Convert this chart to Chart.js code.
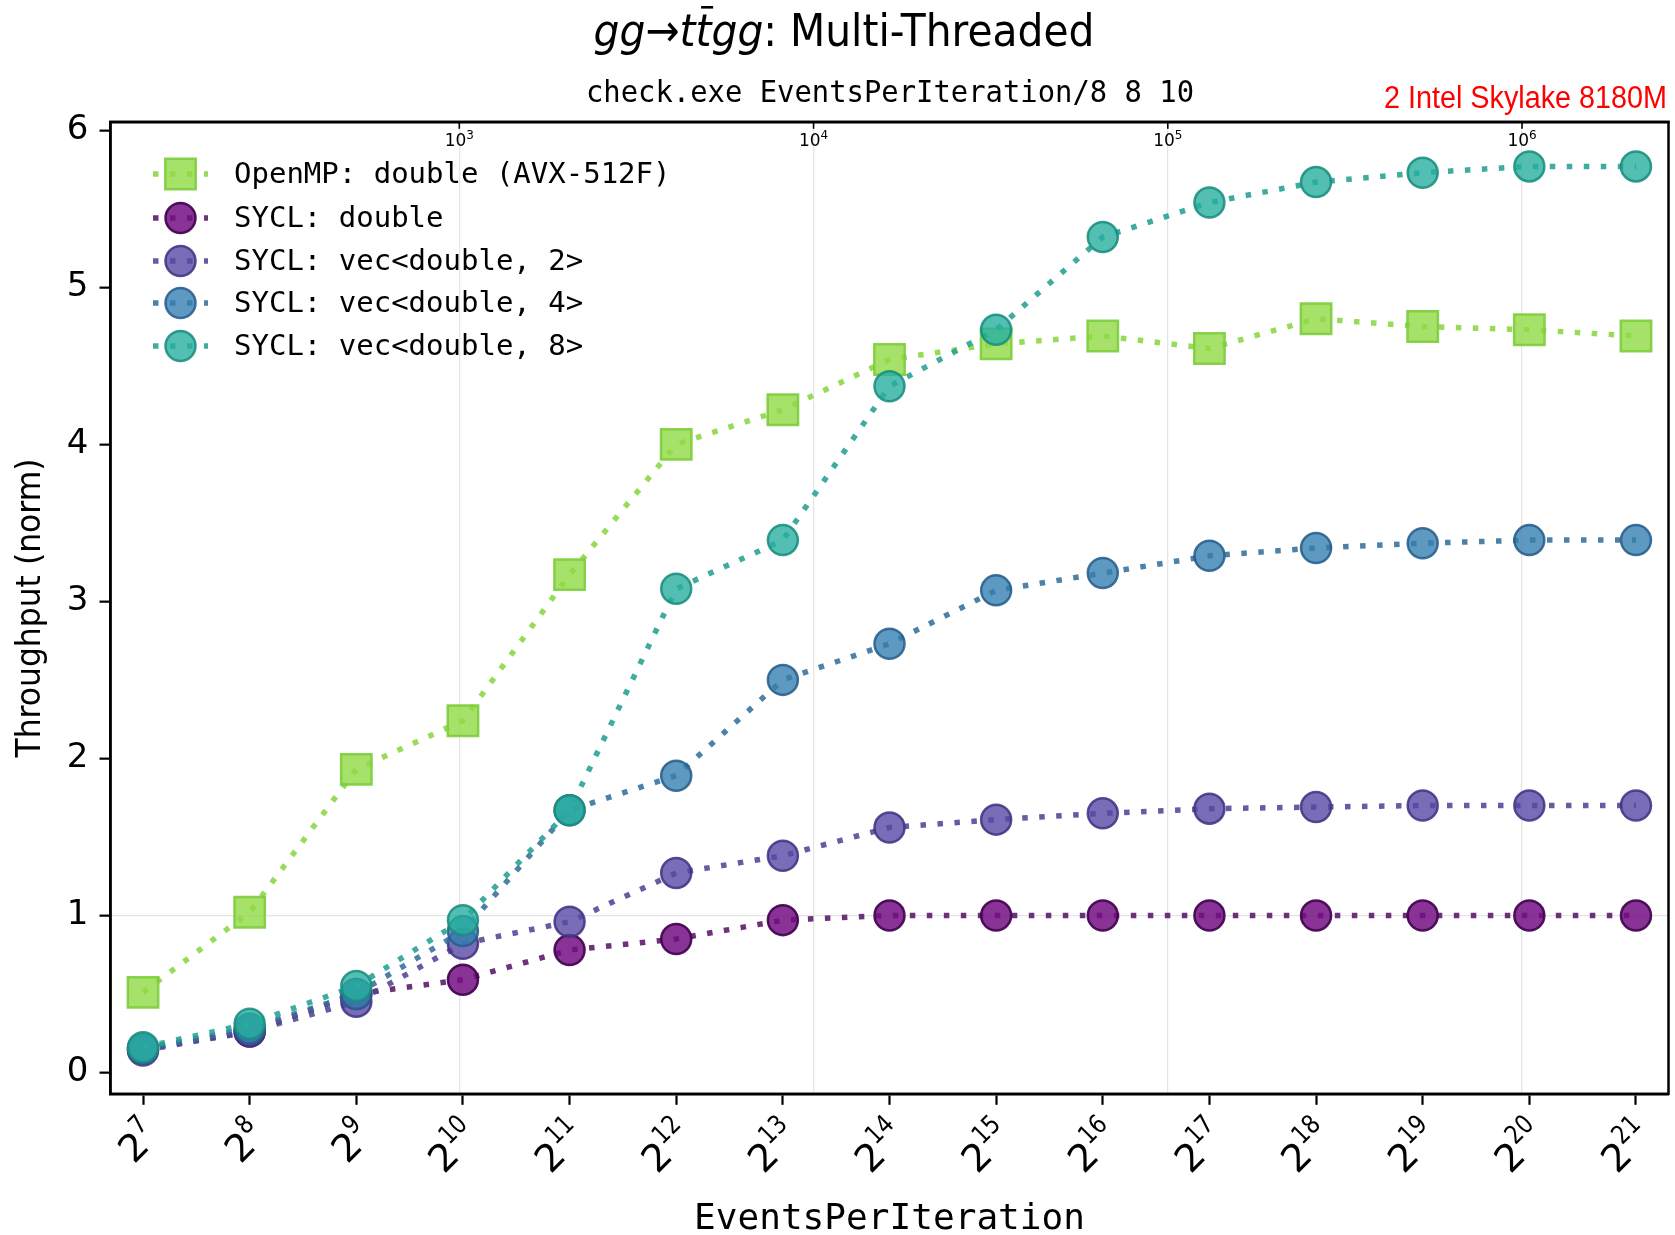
<!DOCTYPE html>
<html>
<head>
<meta charset="utf-8">
<script src="https://cdn.jsdelivr.net/npm/chart.js@4.4.0/dist/chart.umd.min.js"></script>
<style>
  html, body { margin: 0; padding: 0; background: #fff; }
  #wrap { width: 1675px; height: 1235px; }
</style>
</head>
<body>
<div id="wrap"><canvas id="c" width="1675" height="1235"></canvas></div>
<script>
// Powers of two used for EventsPerIteration (bottom tick labels are 2^k)
const exponents = [7, 8, 9, 10, 11, 12, 13, 14, 15, 16, 17, 18, 19, 20, 21];
const eventsPerIteration = exponents.map(e => 2 ** e);

// Normalised throughput per backend
const openmpDouble = [0.51, 1.02, 1.93, 2.24, 3.17, 4.00, 4.22, 4.54, 4.64, 4.69, 4.61, 4.80, 4.75, 4.73, 4.69];
const syclDouble   = [0.15, 0.26, 0.50, 0.59, 0.78, 0.85, 0.97, 1.00, 1.00, 1.00, 1.00, 1.00, 1.00, 1.00, 1.00];
const syclVec2     = [0.14, 0.26, 0.45, 0.82, 0.96, 1.27, 1.38, 1.56, 1.61, 1.65, 1.68, 1.69, 1.70, 1.70, 1.70];
const syclVec4     = [0.15, 0.28, 0.50, 0.90, 1.67, 1.89, 2.50, 2.73, 3.07, 3.18, 3.29, 3.34, 3.37, 3.39, 3.39];
const syclVec8     = [0.16, 0.31, 0.55, 0.97, 1.67, 3.08, 3.39, 4.37, 4.73, 5.32, 5.54, 5.67, 5.73, 5.77, 5.77];

const seriesLabels = [
  'OpenMP: double (AVX-512F)',
  'SYCL: double',
  'SYCL: vec<double, 2>',
  'SYCL: vec<double, 4>',
  'SYCL: vec<double, 8>'
];

// Secondary (top) axis ticks and left axis ticks
const topTickValues = [1e3, 1e4, 1e5, 1e6];
const yTickValues = [0, 1, 2, 3, 4, 5, 6];

const styles = [
  { shape: 'rect',   r: 21.5, fill: 'rgba(144,219,69,0.80)', edge: 'rgba(125,205,60,0.90)', line: 'rgba(140,215,70,0.90)' },
  { shape: 'circle', r: 15,   fill: 'rgba(115,15,130,0.85)', edge: 'rgba(66,3,80,0.92)',    line: 'rgba(88,22,104,0.88)' },
  { shape: 'circle', r: 15,   fill: 'rgba(88,72,165,0.80)',  edge: 'rgba(66,52,132,0.88)',  line: 'rgba(82,68,148,0.88)' },
  { shape: 'circle', r: 15,   fill: 'rgba(52,128,176,0.80)', edge: 'rgba(40,95,140,0.88)',  line: 'rgba(52,112,156,0.88)' },
  { shape: 'circle', r: 15,   fill: 'rgba(39,175,159,0.80)', edge: 'rgba(25,142,128,0.88)', line: 'rgba(36,160,146,0.88)' }
];
const seriesValues = [openmpDouble, syclDouble, syclVec2, syclVec4, syclVec8];

const LINE_W = 5.5;
const DASH = [5.5, 11.5];

const datasets = seriesValues.map((vals, i) => ({
  label: seriesLabels[i],
  data: vals.map((v, k) => ({ x: eventsPerIteration[k], y: v })),
  xAxisID: 'x',
  yAxisID: 'y',
  borderColor: styles[i].line,
  borderWidth: LINE_W,
  borderDash: DASH,
  borderCapStyle: 'butt',
  fill: false,
  tension: 0,
  pointStyle: styles[i].shape,
  pointRadius: styles[i].r,
  pointHoverRadius: styles[i].r,
  pointBackgroundColor: styles[i].fill,
  pointBorderColor: styles[i].edge,
  pointBorderWidth: 2.5,
  order: seriesValues.length - 1 - i
}));

const X_MIN = 2 ** 6.695;
const X_MAX = 2 ** 21.305;

// draws base text with a raised, smaller exponent; (0,0) is the right end
function drawPower(ctx, base, exp, baseFont, expFont, expSx, raise, align) {
  ctx.font = baseFont;
  const bw = ctx.measureText(base).width;
  ctx.font = expFont;
  const ew = ctx.measureText(exp).width * expSx;
  const total = bw + ew;
  const x0 = align === 'center' ? -total / 2 : -total;
  ctx.font = baseFont;
  ctx.fillText(base, x0, 0);
  ctx.save();
  ctx.font = expFont;
  ctx.translate(x0 + bw, -raise);
  ctx.scale(expSx, 1);
  ctx.fillText(exp, 0, 0);
  ctx.restore();
}

// Frame, tick labels, titles and legend
const decorations = {
  id: 'decorations',
  afterDraw(chart) {
    const ctx = chart.ctx;
    const a = chart.chartArea;
    const xTop = chart.scales.xTop;
    const xBot = chart.scales.x;

    // top axis: inward ticks and labels
    ctx.save();
    ctx.strokeStyle = '#000';
    ctx.fillStyle = '#000';
    ctx.lineWidth = 1.6;
    ctx.textBaseline = 'alphabetic';
    topTickValues.forEach(v => {
      const px = xTop.getPixelForValue(v);
      ctx.beginPath();
      ctx.moveTo(px, a.top);
      ctx.lineTo(px, a.top + 7);
      ctx.stroke();
      ctx.save();
      ctx.translate(px, a.top + 24);
      drawPower(ctx, '10', String(Math.round(Math.log10(v))), '17px "DejaVu Sans"', '12px "DejaVu Sans"', 1, 7, 'center');
      ctx.restore();
    });
    ctx.restore();

    // bottom axis: rotated 2^k labels
    ctx.save();
    ctx.fillStyle = '#000';
    ctx.textBaseline = 'middle';
    xBot.ticks.forEach(t => {
      const px = xBot.getPixelForValue(t.value);
      ctx.save();
      ctx.translate(px + 11, a.bottom + 37);
      ctx.rotate(-Math.PI / 4);
      drawPower(ctx, '2', String(Math.round(Math.log2(t.value))), '38px "DejaVu Sans"', '26px "DejaVu Sans"', 0.85, 14, 'right');
      ctx.restore();
    });
    ctx.restore();

    // axes frame
    ctx.save();
    ctx.strokeStyle = '#000';
    ctx.lineWidth = 2.5;
    ctx.strokeRect(a.left, a.top, a.right - a.left, a.bottom - a.top);
    ctx.restore();

    // text helper: fits a string to a given width by horizontal scaling
    const fitText = (text, font, x, y, align, width, color, rot) => {
      ctx.save();
      ctx.font = font;
      ctx.fillStyle = color || '#000';
      ctx.textBaseline = 'alphabetic';
      const w = ctx.measureText(text).width;
      const sx = width ? width / w : 1;
      ctx.translate(x, y);
      if (rot) ctx.rotate(rot);
      ctx.scale(sx, 1);
      const startX = align === 'center' ? -w / 2 : align === 'right' ? -w : 0;
      ctx.fillText(text, startX, 0);
      ctx.restore();
    };

    // main title with math part
    const size = 45;
    const it = `italic ${size}px "DejaVu Sans"`;
    const rg = `${size}px "DejaVu Sans"`;
    const parts = [
      { t: 'gg', f: it }, { t: '→', f: rg }, { t: 't', f: it },
      { t: 't', f: it, bar: true }, { t: 'gg', f: it }, { t: ': Multi-Threaded', f: rg }
    ];
    ctx.save();
    let total = 0;
    parts.forEach(p => { ctx.font = p.f; p.w = ctx.measureText(p.t).width; total += p.w; });
    const targetW = 501;
    const sx = targetW / total;
    ctx.translate(844 - targetW / 2, 46);
    ctx.scale(sx, 1);
    ctx.fillStyle = '#000';
    ctx.textBaseline = 'alphabetic';
    let cx = 0;
    parts.forEach(p => {
      ctx.font = p.f;
      ctx.fillText(p.t, cx, 0);
      if (p.bar) {
        ctx.fillRect(cx + p.w * 0.35, -40, p.w * 0.75, 2.6);
      }
      cx += p.w;
    });
    ctx.restore();

    fitText('check.exe EventsPerIteration/8 8 10', '31px "DejaVu Sans Mono"', 890, 101.5, 'center', 608);
    fitText('2 Intel Skylake 8180M', '31px "Liberation Sans"', 1667, 108, 'right', 283, '#ff0000');
    fitText('Throughput (norm)', '34px "DejaVu Sans"', 40, 608, 'center', 299, '#000', -Math.PI / 2);
    fitText('EventsPerIteration', '36px "DejaVu Sans Mono"', 889.5, 1229, 'center', 391);

    // legend
    const rows = [174, 218, 261, 303, 346];
    styles.forEach((s, i) => {
      const y = rows[i];
      ctx.save();
      ctx.strokeStyle = s.line;
      ctx.lineWidth = LINE_W;
      ctx.setLineDash(DASH);
      ctx.beginPath();
      ctx.moveTo(153, y);
      ctx.lineTo(208, y);
      ctx.stroke();
      ctx.setLineDash([]);
      ctx.fillStyle = s.fill;
      ctx.strokeStyle = s.edge;
      ctx.lineWidth = 2.5;
      ctx.beginPath();
      if (s.shape === 'rect') {
        const h = Math.SQRT1_2 * s.r;
        ctx.rect(180.5 - h, y - h, 2 * h, 2 * h);
      } else {
        ctx.arc(180.5, y, s.r, 0, Math.PI * 2);
      }
      ctx.fill();
      ctx.stroke();
      ctx.font = '29px "DejaVu Sans Mono"';
      ctx.fillStyle = '#000';
      ctx.textBaseline = 'middle';
      ctx.fillText(seriesLabels[i], 234, y + 1);
      ctx.restore();
    });
  }
};

const noPad = s => { s.paddingLeft = 0; s.paddingRight = 0; s.paddingTop = 0; s.paddingBottom = 0; };

new Chart(document.getElementById('c'), {
  type: 'line',
  data: { datasets },
  options: {
    responsive: false,
    devicePixelRatio: 1,
    animation: false,
    events: [],
    layout: { autoPadding: false, padding: { left: 0, right: 6.5, top: 0, bottom: 0 } },
    plugins: { legend: { display: false }, title: { display: false }, tooltip: { enabled: false } },
    scales: {
      x: {
        type: 'logarithmic',
        position: 'bottom',
        min: X_MIN,
        max: X_MAX,
        afterBuildTicks: s => { s.ticks = eventsPerIteration.map(v => ({ value: v })); },
        afterFit: s => { s.height = 141.2; noPad(s); },
        grid: { display: true, drawOnChartArea: false, drawTicks: true, tickLength: 11, tickWidth: 2.2, tickColor: '#000' },
        border: { display: true, color: '#000', width: 2.5 },
        ticks: { display: false, autoSkip: false }
      },
      xTop: {
        type: 'logarithmic',
        position: 'top',
        min: X_MIN,
        max: X_MAX,
        afterBuildTicks: s => { s.ticks = topTickValues.map(v => ({ value: v })); },
        afterFit: s => { s.height = 121.8; noPad(s); },
        grid: { display: true, drawOnChartArea: true, drawTicks: false, color: '#e6e6e6', lineWidth: 1.3 },
        border: { display: true, color: '#000', width: 2.5 },
        ticks: { display: false, autoSkip: false }
      },
      y: {
        min: -0.136,
        max: 6.054,
        afterBuildTicks: s => { s.ticks = yTickValues.map(v => ({ value: v })); },
        afterFit: s => { s.width = 110.5; noPad(s); },
        grid: {
          color: c => (c.tick && c.tick.value === 1 ? '#e4e4e4' : 'rgba(0,0,0,0)'),
          lineWidth: 1.3, tickColor: '#000', tickLength: 11, tickWidth: 2.2
        },
        border: { display: true, color: '#000', width: 2.5 },
        ticks: { padding: 11, color: '#000', font: { family: 'DejaVu Sans', size: 34 } }
      }
    }
  },
  plugins: [decorations]
});
</script>
</body>
</html>
